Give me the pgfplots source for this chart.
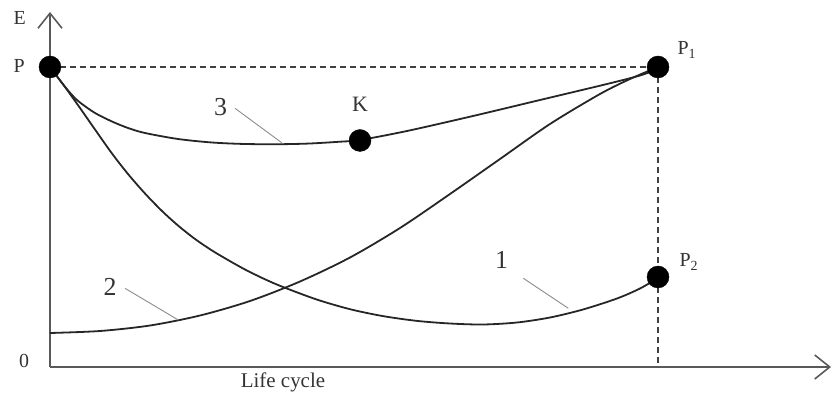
\documentclass[border=0pt]{standalone}
\usepackage{fontspec}
\setmainfont{Liberation Serif}
\usepackage{pgfplots}
\pgfplotsset{compat=1.18}
\usetikzlibrary{arrows.meta}
\begin{document}
\begin{tikzpicture}
\begin{axis}[
  scale only axis,
  width=781bp, height=355bp,
  xmin=0, xmax=781, ymin=0, ymax=355,
  axis x line=bottom, axis y line=left,
  axis line style={line width=1.8bp, color=black!65, -{Straight Barb[length=15bp,width=24bp,line width=1.6bp]}},
  xtick=\empty, ytick=\empty,
  clip=false,
]
% bounding box of the reference picture
\path (axis cs:-50,-31) rectangle (axis cs:783,367);
% dashed guides
\addplot[black!75, line width=1.6bp, dash pattern=on 6bp off 4bp] coordinates {(0,300) (608,300)};
\addplot[black!75, line width=1.6bp, dash pattern=on 6bp off 4bp] coordinates {(608,300) (608,0)};
% curve 1
\addplot[black!85, line width=1.8bp, smooth, tension=0.5] coordinates {
(0,300) (15,280) (30,259) (45,237.5) (62,213.5) (78,193) (95,173.5) (112,156) (128,141.5)
(145,128) (162,116.5) (178,107) (195,97.5) (215,87.7) (233,80) (267,67.4) (300,57.8) (333,50.9)
(367,46.1) (400,43.5) (433,42.5) (467,44.5) (500,49.5) (533,57.5) (567,68.5) (590,78.5) (608,89)};
% curve 2
\addplot[black!85, line width=1.8bp, smooth, tension=0.5] coordinates {
(0,34) (50,36) (100,41.5) (150,51.5) (200,66) (250,85.5) (300,109.5) (350,139) (400,173)
(450,208) (500,243) (550,273) (580,288) (608,300)};
% curve 3
\addplot[black!85, line width=1.8bp, smooth, tension=0.5] coordinates {
(0,300) (12,284) (22,272) (30,264.5) (45,254) (62,245.5) (78,239) (95,234) (128,228)
(162,224.5) (195,223) (230,222.8) (260,223.5) (290,225.3) (310,227) (357,236) (423,251)
(490,267) (557,283) (590,291.5) (608,298)};
% leader lines
\addplot[black!45, line width=0.9bp] coordinates {(185,258.7) (231.7,224.3)};
\addplot[black!45, line width=0.9bp] coordinates {(75,78.7) (128.3,47)};
\addplot[black!45, line width=0.9bp] coordinates {(473.3,88.7) (518.3,58.7)};
% points
\addplot[only marks, mark=*, mark size=11bp, black] coordinates {(0,300) (608,300) (608,90) (310,226.5)};
% labels
\node[anchor=base west, font=\fontsize{20}{22}\selectfont, text=black!80] at (axis cs:-40,342) {E};
\node[anchor=base west, font=\fontsize{20}{22}\selectfont, text=black!80] at (axis cs:-40,294) {P};
\node[font=\fontsize{20}{22}\selectfont, text=black!80] at (axis cs:-26,6) {0};
\node[anchor=base, font=\fontsize{21}{22}\selectfont, text=black!80] at (axis cs:233,-20) {Life cycle};
\node[font=\fontsize{22}{24}\selectfont, text=black!80] at (axis cs:310,263) {K};
\node[font=\fontsize{26}{28}\selectfont, text=black!80] at (axis cs:170.7,260.3) {3};
\node[font=\fontsize{26}{28}\selectfont, text=black!80] at (axis cs:60,80.3) {2};
\node[font=\fontsize{26}{28}\selectfont, text=black!80] at (axis cs:451.7,107) {1};
\node[anchor=base west, font=\fontsize{20}{22}\selectfont, text=black!80] at (axis cs:624,312) {P\textsubscript{1}};
\node[anchor=base west, font=\fontsize{20}{22}\selectfont, text=black!80] at (axis cs:626,100) {P\textsubscript{2}};
\end{axis}
\end{tikzpicture}
\end{document}
